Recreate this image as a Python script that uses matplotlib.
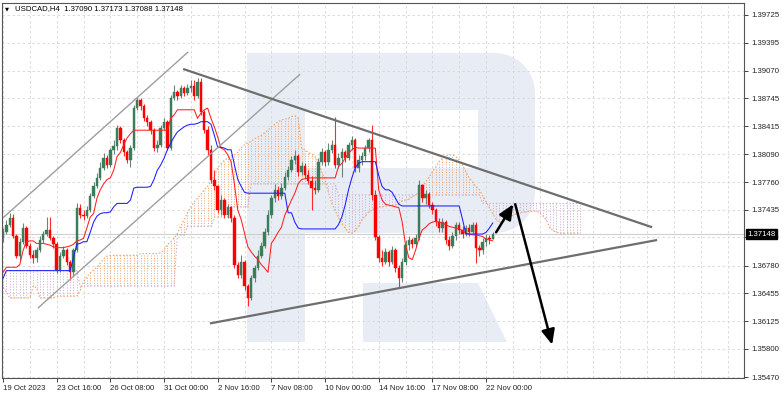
import numpy as np
import matplotlib
matplotlib.use("Agg")
import matplotlib.pyplot as plt
from matplotlib.patches import Rectangle, Polygon
from matplotlib.transforms import IdentityTransform, blended_transform_factory

# ---------------- data (USDCAD H4, bar index 0 = 19 Oct 2023 00:00) ----------------
OPEN = [1.3710, 1.3717, 1.3726, 1.3734, 1.3713, 1.3689, 1.3706, 1.3722, 1.3701, 1.3690,
        1.3687, 1.3696, 1.3708, 1.3715, 1.3720, 1.3710, 1.3703, 1.3673, 1.3689, 1.3696,
        1.3682, 1.3670, 1.3696, 1.3746, 1.3737, 1.3736, 1.3743, 1.3760, 1.3771, 1.3781,
        1.3793, 1.3804, 1.3796, 1.3814, 1.3818, 1.3840, 1.3826, 1.3811, 1.3802, 1.3816,
        1.3863, 1.3873, 1.3865, 1.3851, 1.3847, 1.3837, 1.3816, 1.3820, 1.3840, 1.3847,
        1.3816, 1.3875, 1.3882, 1.3877, 1.3887, 1.3881, 1.3887, 1.3889, 1.3877, 1.3894,
        1.3858, 1.3837, 1.3814, 1.3779, 1.3771, 1.3743, 1.3755, 1.3737, 1.3747, 1.3734,
        1.3679, 1.3667, 1.3682, 1.3654, 1.3640, 1.3663, 1.3675, 1.3689, 1.3701, 1.3717,
        1.3737, 1.3757, 1.3767, 1.3760, 1.3769, 1.3782, 1.3790, 1.3802, 1.3807, 1.3788,
        1.3795, 1.3784, 1.3777, 1.3769, 1.3767, 1.3800, 1.3811, 1.3800, 1.3814, 1.3820,
        1.3796, 1.3804, 1.3811, 1.3804, 1.3820, 1.3826, 1.3793, 1.3802, 1.3807, 1.3816,
        1.3826, 1.3761, 1.3712, 1.3687, 1.3682, 1.3694, 1.3682, 1.3696, 1.3675, 1.3663,
        1.3682, 1.3702, 1.3708, 1.3703, 1.3710, 1.3773, 1.3757, 1.3762, 1.3749, 1.3743,
        1.3729, 1.3722, 1.3729, 1.3708, 1.3701, 1.3713, 1.3726, 1.3720, 1.3715, 1.3722,
        1.3717, 1.3726, 1.3699, 1.3696, 1.3706, 1.3710, 1.37090]
HIGH = [1.3722, 1.3732, 1.3740, 1.3739, 1.3715, 1.3710, 1.3728, 1.3724, 1.3704, 1.3696,
        1.3700, 1.3713, 1.3719, 1.3735, 1.3735, 1.3713, 1.3706, 1.3694, 1.3701, 1.3699,
        1.3685, 1.3699, 1.3751, 1.3750, 1.3743, 1.3748, 1.3763, 1.3776, 1.3787, 1.3800,
        1.3810, 1.3808, 1.3816, 1.3826, 1.3843, 1.3842, 1.3828, 1.3814, 1.3820, 1.3867,
        1.3876, 1.3875, 1.3868, 1.3855, 1.3849, 1.3840, 1.3826, 1.3843, 1.3851, 1.3849,
        1.3878, 1.3890, 1.3884, 1.3890, 1.3889, 1.3891, 1.3896, 1.3896, 1.3898, 1.3898,
        1.3861, 1.3842, 1.3820, 1.3790, 1.3773, 1.3761, 1.3757, 1.3750, 1.3748, 1.3737,
        1.3682, 1.3690, 1.3685, 1.3656, 1.3667, 1.3679, 1.3696, 1.3706, 1.3722, 1.3743,
        1.3761, 1.3774, 1.3771, 1.3775, 1.3788, 1.3795, 1.3807, 1.3814, 1.3809, 1.3800,
        1.3798, 1.3790, 1.3783, 1.3779, 1.3804, 1.3816, 1.3814, 1.3822, 1.3826, 1.3853,
        1.3810, 1.3816, 1.3814, 1.3823, 1.3830, 1.3828, 1.3808, 1.3811, 1.3820, 1.3828,
        1.3843, 1.3767, 1.3714, 1.3696, 1.3699, 1.3696, 1.3701, 1.3699, 1.3679, 1.3687,
        1.3708, 1.3713, 1.3710, 1.3715, 1.3779, 1.3774, 1.3767, 1.3764, 1.3753, 1.3746,
        1.3734, 1.3734, 1.3732, 1.3713, 1.3717, 1.3729, 1.3729, 1.3724, 1.3726, 1.3727,
        1.3729, 1.3729, 1.3702, 1.3710, 1.3715, 1.3714, 1.37173]
LOW = [1.3706, 1.3715, 1.3723, 1.3710, 1.3687, 1.3685, 1.3703, 1.3699, 1.3687, 1.3681,
       1.3682, 1.3694, 1.3704, 1.3713, 1.3708, 1.3699, 1.3669, 1.3670, 1.3687, 1.3679,
       1.3661, 1.3666, 1.3694, 1.3734, 1.3732, 1.3734, 1.3741, 1.3757, 1.3769, 1.3779,
       1.3790, 1.3793, 1.3794, 1.3809, 1.3814, 1.3822, 1.3807, 1.3798, 1.3794, 1.3814,
       1.3861, 1.3861, 1.3848, 1.3842, 1.3833, 1.3813, 1.3811, 1.3817, 1.3837, 1.3814,
       1.3814, 1.3873, 1.3873, 1.3875, 1.3877, 1.3878, 1.3882, 1.3873, 1.3875, 1.3855,
       1.3834, 1.3808, 1.3775, 1.3767, 1.3740, 1.3737, 1.3734, 1.3734, 1.3729, 1.3675,
       1.3663, 1.3663, 1.3649, 1.3630, 1.3638, 1.3659, 1.3673, 1.3687, 1.3699, 1.3714,
       1.3734, 1.3753, 1.3755, 1.3756, 1.3767, 1.3779, 1.3788, 1.3797, 1.3783, 1.3784,
       1.3781, 1.3774, 1.3743, 1.3762, 1.3764, 1.3796, 1.3795, 1.3796, 1.3810, 1.3793,
       1.3793, 1.3782, 1.3800, 1.3802, 1.3814, 1.3788, 1.3788, 1.3796, 1.3802, 1.3811,
       1.3755, 1.3708, 1.3682, 1.3677, 1.3680, 1.3677, 1.3680, 1.3670, 1.3653, 1.3659,
       1.3679, 1.3696, 1.3699, 1.3700, 1.3708, 1.3753, 1.3750, 1.3746, 1.3739, 1.3724,
       1.3717, 1.3717, 1.3703, 1.3696, 1.3699, 1.3708, 1.3715, 1.3710, 1.3713, 1.3713,
       1.3715, 1.3681, 1.3689, 1.3692, 1.3701, 1.3703, 1.37088]
CLOSE = [1.3717, 1.3726, 1.3734, 1.3713, 1.3689, 1.3706, 1.3722, 1.3701, 1.3690, 1.3687,
         1.3696, 1.3708, 1.3715, 1.3720, 1.3710, 1.3703, 1.3673, 1.3689, 1.3696, 1.3682,
         1.3670, 1.3696, 1.3746, 1.3737, 1.3736, 1.3743, 1.3760, 1.3771, 1.3781, 1.3793,
         1.3804, 1.3796, 1.3814, 1.3818, 1.3840, 1.3826, 1.3811, 1.3802, 1.3816, 1.3863,
         1.3873, 1.3865, 1.3851, 1.3847, 1.3837, 1.3816, 1.3820, 1.3840, 1.3847, 1.3816,
         1.3875, 1.3882, 1.3877, 1.3887, 1.3881, 1.3887, 1.3889, 1.3877, 1.3894, 1.3858,
         1.3837, 1.3814, 1.3779, 1.3771, 1.3743, 1.3755, 1.3737, 1.3747, 1.3734, 1.3679,
         1.3667, 1.3682, 1.3654, 1.3640, 1.3663, 1.3675, 1.3689, 1.3701, 1.3717, 1.3737,
         1.3757, 1.3767, 1.3760, 1.3769, 1.3782, 1.3790, 1.3802, 1.3807, 1.3788, 1.3795,
         1.3784, 1.3777, 1.3769, 1.3767, 1.3800, 1.3811, 1.3800, 1.3814, 1.3820, 1.3796,
         1.3804, 1.3811, 1.3804, 1.3820, 1.3826, 1.3793, 1.3802, 1.3807, 1.3816, 1.3826,
         1.3761, 1.3712, 1.3687, 1.3682, 1.3694, 1.3682, 1.3696, 1.3675, 1.3663, 1.3682,
         1.3702, 1.3708, 1.3703, 1.3710, 1.3773, 1.3757, 1.3762, 1.3749, 1.3743, 1.3729,
         1.3722, 1.3729, 1.3708, 1.3701, 1.3713, 1.3726, 1.3720, 1.3715, 1.3722, 1.3717,
         1.3726, 1.3699, 1.3696, 1.3706, 1.3710, 1.37090, 1.37148]

TENKAN = ([1.3670] + [1.3676] * 4 + [1.3679, 1.3696, 1.3706, 1.3707, 1.3707,
          1.3704, 1.3704, 1.3704, 1.3703, 1.3702, 1.3700, 1.3699, 1.3699, 1.3699, 1.3700,
          1.3701, 1.3703, 1.3707, 1.3708, 1.3710, 1.3722, 1.3735, 1.3739, 1.3757, 1.3767,
          1.3774, 1.3779, 1.3781, 1.3790, 1.3806, 1.3811, 1.3820, 1.3828, 1.3833]
          + [1.3837] * 11 + [1.3851, 1.3855] + [1.3861] * 6
          + [1.3851, 1.3857, 1.3861, 1.3863, 1.3851, 1.3841, 1.3829, 1.3816, 1.3814, 1.3808,
             1.3800, 1.3773, 1.3743, 1.3732, 1.3716, 1.3700, 1.3694, 1.3689, 1.3685, 1.3679,
             1.3675, 1.3670, 1.3704, 1.3710, 1.3717, 1.3723, 1.3737, 1.3746, 1.3755, 1.3763,
             1.3774, 1.3779, 1.3780] + [1.3781] * 9
          + [1.3794, 1.3798, 1.3804, 1.3810, 1.3814, 1.3817] + [1.3816] * 6
          + [1.3767, 1.3755, 1.3750, 1.3749, 1.3748, 1.3747, 1.3746, 1.3729, 1.3702, 1.3687,
             1.3685, 1.3696, 1.3710, 1.3720, 1.3723, 1.3727, 1.3729, 1.3730, 1.3729, 1.3728,
             1.3726, 1.3724, 1.3723, 1.3722, 1.3721, 1.3719, 1.3716, 1.3715, 1.3714, 1.3714,
             1.3713, 1.3712, 1.3709, 1.3708, 1.3707])

KIJUN = ([1.3663] + [1.3672] * 20 + [1.3687, 1.3703, 1.3704] + [1.3706] * 2
         + [1.3717, 1.3729, 1.3736, 1.3739] + [1.3740] * 2 + [1.3741, 1.3747] + [1.3751] * 4
         + [1.3755, 1.3769] + [1.3770] * 4 + [1.3771, 1.3779, 1.3790, 1.3796, 1.3804, 1.3814,
         1.3822, 1.3829, 1.3835, 1.3838, 1.3841, 1.3843] + [1.3844] * 2 + [1.3845]
         + [1.3847] * 3 + [1.3844, 1.3831] + [1.3817] * 2 + [1.3816] + [1.3814] * 2
         + [1.3796, 1.3779, 1.3771, 1.3764] + [1.3763] * 12 + [1.3740] * 2 + [1.3729, 1.3722]
         + [1.3721] * 11 + [1.3726, 1.3735, 1.3749, 1.3767, 1.3781, 1.3793, 1.3798]
         + [1.3800] * 5 + [1.3784, 1.3771] + [1.3767] * 2 + [1.3764, 1.3757, 1.3750]
         + [1.3748] * 18 + [1.3732] + [1.3715] * 6 + [1.3717, 1.3722, 1.3728])

SPAN_A = ([1.3652, 1.3647] + [1.3640] * 7 + [1.3654, 1.3652] + [1.3640] * 5 + [1.3642] * 7
          + [1.3649, 1.3659, 1.3665, 1.3669, 1.3673, 1.3676, 1.3681, 1.3686, 1.3689]
          + [1.3690] * 9 + [1.3692] * 6
          + [1.3693, 1.3696, 1.3702, 1.3706, 1.3710, 1.3716, 1.3724, 1.3732, 1.3740, 1.3747,
             1.3753, 1.3757, 1.3762, 1.3767, 1.3771, 1.3777, 1.3783, 1.3793, 1.3798, 1.3802,
             1.3804, 1.3807, 1.3808, 1.3811, 1.3816, 1.3820, 1.3822, 1.3824, 1.3827, 1.3829,
             1.3831, 1.3834, 1.3837, 1.3841, 1.3844, 1.3847, 1.3849, 1.3850, 1.3851, 1.3853,
             1.3854, 1.3851, 1.3816, 1.3814, 1.3811, 1.3809, 1.3806, 1.3800, 1.3788, 1.3779,
             1.3764, 1.3751, 1.3743, 1.3734, 1.3727, 1.3722, 1.3717, 1.3716, 1.3719, 1.3724,
             1.3732, 1.3736, 1.3741, 1.3743, 1.3746]
          + [1.3747] * 2 + [1.3748] * 2 + [1.3749] * 2
          + [1.3751, 1.3754, 1.3755, 1.3756, 1.3759, 1.3761, 1.3764, 1.3770, 1.3776, 1.3782,
             1.3788, 1.3794, 1.3800, 1.3804, 1.3807]
          + [1.3808] * 2
          + [1.3806, 1.3802, 1.3796, 1.3788, 1.3781, 1.3776, 1.3771, 1.3767, 1.3760, 1.3753,
             1.3746, 1.3739, 1.3732]
          + [1.3729] * 2 + [1.3732, 1.3735, 1.3737, 1.3739, 1.3740] + [1.3741] * 2
          + [1.3742] * 3 + [1.3740, 1.3736, 1.3732, 1.3722, 1.3719, 1.3717] + [1.3716] * 7)

SPAN_B = ([1.3672] * 23 + [1.3654] * 29 + [1.3714] * 3 + [1.3724] * 8 + [1.3735] * 5
          + [1.3747] * 6 + [1.3774] * 26 + [1.3761] * 43 + [1.3751] * 30)

DATE_LABELS = ["19 Oct 2023", "23 Oct 16:00", "26 Oct 08:00", "31 Oct 00:00", "2 Nov 16:00",
               "7 Nov 08:00", "10 Nov 00:00", "14 Nov 16:00", "17 Nov 08:00", "22 Nov 00:00"]
DATE_BARS = [0, 16, 32, 48, 64, 80, 96, 112, 128, 144]
PRICE_TICKS = [1.39725, 1.39395, 1.39070, 1.38745, 1.38415, 1.38090, 1.37760, 1.37435,
               1.37110, 1.36780, 1.36455, 1.36125, 1.35800, 1.35470]
LAST_PRICE = 1.37148
TITLE = "USDCAD,H4  1.37090 1.37173 1.37088 1.37148"

# drawn analysis lines (bar index, price)
CHANNEL_UP = ([0.0, 55.2], [1.3734, 1.3929])
CHANNEL_LO = ([10.4, 88.6], [1.3628, 1.3903])
TRI_UP = ([53.7, 193.5], [1.3909, 1.3723])
TRI_LO = ([61.7, 195.0], [1.3610, 1.3708])
ARROW_1 = ((147.0, 1.3717), (152.1, 1.3750))
ARROW_2 = ((152.7, 1.3750), (163.7, 1.3585))

# ---------------- figure ----------------
W, H = 782, 396
fig = plt.figure(figsize=(W / 100, H / 100), dpi=100)
fig.patch.set_facecolor("white")
AL, AR, AT, AB = 2, 744, 2.7, 378
ax = fig.add_axes([AL / W, 1 - AB / H, (AR - AL) / W, (AB - AT) / H])
ax.set_facecolor("white")
ax.set_xlim(-0.3, 220.9)
ax.set_ylim(1.354585, 1.398683)

# watermark "R" (decoration, pixel coordinates)
wm = "#e8edf5"
pix = IdentityTransform()
def P(x, y):
    return (x, H - y)
ax.add_patch(Rectangle(P(247, 342), 58, 289, transform=pix, fc=wm, ec="none", zorder=0.1))
t = np.linspace(0, np.pi / 2, 12)
r = 40
bowl = [P(247, 53), P(535 - r, 53)]
bowl += [P(535 - r + r * np.sin(a), 53 + r - r * np.cos(a)) for a in t]
bowl += [P(535, 233 - r)]
bowl += [P(535 - r + r * np.cos(a), 233 - r + r * np.sin(a)) for a in t]
bowl += [P(247, 233)]
ax.add_patch(Polygon(bowl, closed=True, transform=pix, fc=wm, ec="none", zorder=0.1))
ax.add_patch(Rectangle(P(305, 168), 173, 58, transform=pix, fc="white", ec="none", zorder=0.15))
ax.add_patch(Polygon([P(363, 283), P(478, 283), P(507, 342), P(363, 342)], closed=True,
                     transform=pix, fc=wm, ec="none", zorder=0.1))

# grid / ticks
ax.set_axisbelow(True)
ax.set_xticks(DATE_BARS)
ax.set_xticklabels(DATE_LABELS)
ax.set_xticks([b for b in range(8, 220, 8) if b not in DATE_BARS], minor=True)
ax.grid(True, which="both", axis="x", color="#d6d6d6", lw=0.6, ls=(0, (3, 3)))
ax.yaxis.tick_right()
ax.set_yticks(PRICE_TICKS)
ax.set_yticklabels([f"{p:.5f}" for p in PRICE_TICKS])
ax.grid(True, which="major", axis="y", color="#d6d6d6", lw=0.6, ls=(0, (3, 3)))
ax.tick_params(axis="x", which="major", length=3, width=0.6, pad=2, labelsize=5.6,
               colors="#222222")
ax.tick_params(axis="x", which="minor", length=0)
ax.tick_params(axis="y", length=3, width=0.6, pad=2, labelsize=5.6, colors="#222222")
for lab in ax.get_xticklabels():
    lab.set_ha("left")
    lab.set_family("Liberation Sans")
for lab in ax.get_yticklabels():
    lab.set_family("Liberation Sans")
for s in ax.spines.values():
    s.set_color("#555555")
    s.set_linewidth(0.8)

ax.axhline(LAST_PRICE, color="#cfcfcf", lw=0.8, zorder=0.6)

# Ichimoku cloud
SA = np.array(SPAN_A)
SB = np.array(SPAN_B)
xc = np.arange(len(SA))
bull = SA >= SB
dots = (0, (1.3, 1.7))
ORANGE = "#f2a060"
PURPLE = "#cfaed6"
ax.vlines(xc[bull], np.minimum(SA, SB)[bull], np.maximum(SA, SB)[bull],
          colors=ORANGE, lw=0.6, linestyles=dots, zorder=1)
ax.vlines(xc[~bull], np.minimum(SA, SB)[~bull], np.maximum(SA, SB)[~bull],
          colors=PURPLE, lw=0.65, linestyles=dots, zorder=1)
ax.plot(xc, SB, color=PURPLE, lw=0.8, ls=dots, zorder=1.1)
ax.plot(xc, SA, color=ORANGE, lw=0.8, ls=dots, zorder=1.1)

# candles
O = np.array(OPEN); Hh = np.array(HIGH); Lw = np.array(LOW); C = np.array(CLOSE)
x = np.arange(len(C))
up = C >= O
ax.vlines(x[up], Lw[up], Hh[up], colors="#6a8577", lw=0.8, zorder=2)
ax.vlines(x[~up], Lw[~up], Hh[~up], colors="#ff2a2a", lw=0.8, zorder=2)
ax.bar(x[up], np.maximum(C - O, 0.00003)[up], bottom=O[up], width=0.72,
       color="#3b7d5a", edgecolor="#3b7d5a", lw=0.3, zorder=2.5)
ax.bar(x[~up], np.maximum(O - C, 0.00003)[~up], bottom=C[~up], width=0.72,
       color="#ff0000", edgecolor="#ff0000", lw=0.3, zorder=2.5)

# Tenkan / Kijun
ax.plot(np.arange(len(TENKAN)), TENKAN, color="#ff2020", lw=0.75, zorder=3)
ax.plot(np.arange(len(KIJUN)), KIJUN, color="#1c1cff", lw=0.75, zorder=3)

# analysis lines
ax.plot(*CHANNEL_UP, color="#9e9e9e", lw=1.0, zorder=4, solid_capstyle="butt")
ax.plot(*CHANNEL_LO, color="#9e9e9e", lw=1.0, zorder=4, solid_capstyle="butt")
ax.plot(*TRI_UP, color="#6e6e6e", lw=1.6, zorder=4, solid_capstyle="butt")
ax.plot(*TRI_LO, color="#6e6e6e", lw=1.6, zorder=4, solid_capstyle="butt")
for (s, e) in (ARROW_1, ARROW_2):
    ax.annotate("", xy=e, xytext=s,
                arrowprops=dict(arrowstyle="-|>,head_length=0.9,head_width=0.4",
                                color="black", lw=1.8, shrinkA=0, shrinkB=0,
                                mutation_scale=10), zorder=5)

# last price box
tr = blended_transform_factory(ax.transAxes, ax.transData)
ax.text(1.0 + 3.5 / (AR - AL), LAST_PRICE, f"{LAST_PRICE:.5f}", transform=tr,
        ha="left", va="center", color="white", fontsize=5.6, family="Liberation Sans",
        bbox=dict(boxstyle="square,pad=0.2", fc="black", ec="black"), clip_on=False,
        zorder=10)

# title
fig.text(5 / W, 1 - 9 / H, "▼", fontsize=3.8, color="black", va="center", ha="left",
         family="DejaVu Sans")
fig.text(15 / W, 1 - 9 / H, TITLE, fontsize=5.6, color="black", va="center", ha="left",
         family="Liberation Sans")

fig.savefig("out.png", dpi=100, facecolor="white")
